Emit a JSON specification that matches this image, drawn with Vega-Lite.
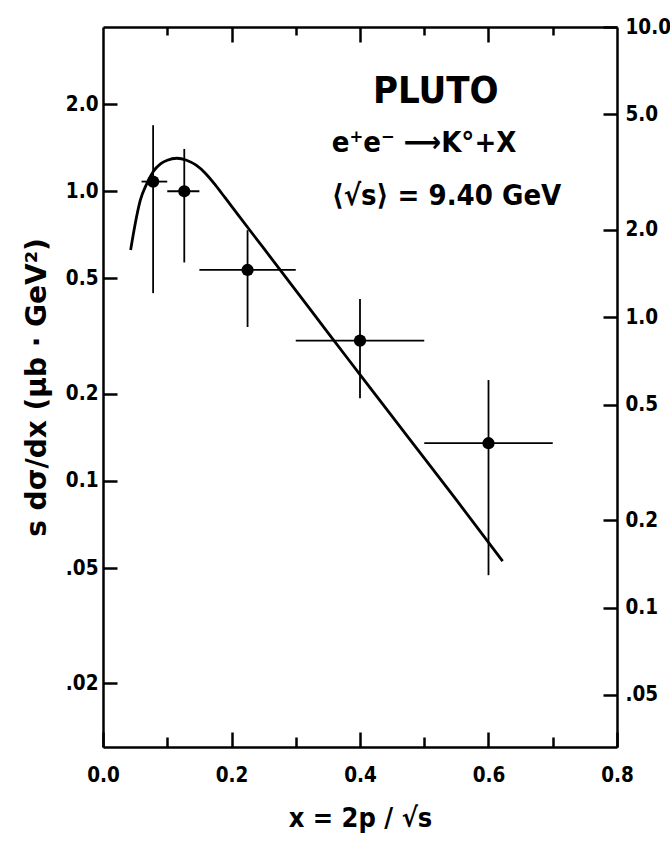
{
  "$schema": "https://vega.github.io/schema/vega-lite/v6.json",
  "width": 514,
  "height": 720,
  "autosize": "none",
  "padding": {"left": 103, "top": 27, "right": 53, "bottom": 97},
  "background": "white",
  "config": {
    "view": {"stroke": null},
    "axis": {
      "grid": false,
      "ticks": true,
      "domainColor": "black",
      "tickColor": "black",
      "labelColor": "black",
      "titleColor": "black",
      "labelFont": "DejaVu Sans Condensed",
      "labelFontSize": 20.5,
      "labelFontWeight": "bold",
      "domainWidth": 2.5,
      "tickWidth": 2.5,
      "labelOverlap": false,
      "labelFlush": false,
      "labelBound": false
    }
  },
  "datasets": {
    "points": [
      {"x": 0.078, "y": 1.08, "xlo": 0.06, "xhi": 0.10, "ylo": 0.445, "yhi": 1.69},
      {"x": 0.1265, "y": 1.0, "xlo": 0.10, "xhi": 0.15, "ylo": 0.568, "yhi": 1.40},
      {"x": 0.225, "y": 0.535, "xlo": 0.15, "xhi": 0.30, "ylo": 0.34, "yhi": 0.734},
      {"x": 0.40, "y": 0.305, "xlo": 0.30, "xhi": 0.50, "ylo": 0.193, "yhi": 0.425},
      {"x": 0.60, "y": 0.135, "xlo": 0.50, "xhi": 0.70, "ylo": 0.0473, "yhi": 0.223}
    ],
    "curve": [
      {"x": 0.043, "y": 0.627},
      {"x": 0.05, "y": 0.77},
      {"x": 0.058, "y": 0.93},
      {"x": 0.068, "y": 1.06},
      {"x": 0.078, "y": 1.168},
      {"x": 0.09, "y": 1.245},
      {"x": 0.1, "y": 1.28},
      {"x": 0.115, "y": 1.3},
      {"x": 0.13, "y": 1.28},
      {"x": 0.145, "y": 1.23},
      {"x": 0.16, "y": 1.15},
      {"x": 0.175, "y": 1.05},
      {"x": 0.19, "y": 0.95},
      {"x": 0.21, "y": 0.83},
      {"x": 0.25, "y": 0.636},
      {"x": 0.3, "y": 0.455},
      {"x": 0.35, "y": 0.325},
      {"x": 0.4, "y": 0.233},
      {"x": 0.45, "y": 0.167},
      {"x": 0.5, "y": 0.12},
      {"x": 0.55, "y": 0.086},
      {"x": 0.622, "y": 0.0529}
    ]
  },
  "layer": [
    {
      "layer": [
        {
          "data": {"name": "points"},
          "mark": {"type": "rule", "color": "black", "strokeWidth": 1.8},
          "encoding": {
            "x": {
              "field": "xlo", "type": "quantitative",
              "scale": {"domain": [0, 0.8], "nice": false, "zero": false},
              "axis": {
                "orient": "bottom",
                "values": [0, 0.2, 0.4, 0.6, 0.8],
                "format": ".1f",
                "tickSize": -15,
                "labelPadding": 33,
                "title": "x = 2p / √s",
                "titleFont": "DejaVu Sans Condensed",
                "titleFontSize": 27,
                "titleFontWeight": "bold",
                "titlePadding": 20
              }
            },
            "x2": {"field": "xhi"},
            "y": {
              "field": "y", "type": "quantitative",
              "scale": {"type": "log", "domain": [0.01207, 3.69], "nice": false},
              "axis": {
                "orient": "left",
                "values": [0.02, 0.05, 0.1, 0.2, 0.5, 1, 2],
                "labelExpr": "datum.value >= 0.1 ? format(datum.value, '.1f') : replace(format(datum.value, '.2f'), '0.', '.')",
                "tickSize": -14,
                "labelPadding": 19,
                "title": "s dσ/dx   (μb · GeV²)",
                "titleFont": "DejaVu Sans",
                "titleFontSize": 28,
                "titleFontWeight": "bold",
                "titlePadding": 14
              }
            }
          }
        },
        {
          "data": {"name": "points"},
          "mark": {"type": "rule", "color": "black", "strokeWidth": 1.8},
          "encoding": {
            "x": {"field": "x", "type": "quantitative"},
            "y": {"field": "ylo", "type": "quantitative"},
            "y2": {"field": "yhi"}
          }
        },
        {
          "data": {"name": "curve"},
          "mark": {"type": "line", "color": "black", "strokeWidth": 2.8, "interpolate": "monotone"},
          "encoding": {
            "x": {"field": "x", "type": "quantitative"},
            "y": {"field": "y", "type": "quantitative"}
          }
        },
        {
          "data": {"name": "points"},
          "mark": {"type": "circle", "color": "black", "opacity": 1, "size": 150},
          "encoding": {
            "x": {"field": "x", "type": "quantitative"},
            "y": {"field": "y", "type": "quantitative"}
          }
        },
        {
          "data": {"values": [{}]},
          "mark": {"type": "text", "font": "DejaVu Sans Condensed", "fontWeight": "bold", "fontSize": 38, "align": "center", "baseline": "alphabetic", "color": "black"},
          "encoding": {
            "x": {"datum": 0.518, "type": "quantitative"},
            "y": {"datum": 2.016, "type": "quantitative"},
            "text": {"value": "PLUTO"}
          }
        },
        {
          "data": {"values": [{}]},
          "mark": {"type": "text", "font": "DejaVu Sans Condensed", "fontWeight": "bold", "fontSize": 29, "align": "left", "baseline": "alphabetic", "color": "black"},
          "encoding": {
            "x": {"datum": 0.356, "type": "quantitative"},
            "y": {"datum": 1.366, "type": "quantitative"},
            "text": {"value": "e⁺e⁻ ⟶K°+X"}
          }
        },
        {
          "data": {"values": [{}]},
          "mark": {"type": "text", "font": "DejaVu Sans Condensed", "fontWeight": "bold", "fontSize": 29, "align": "left", "baseline": "alphabetic", "color": "black"},
          "encoding": {
            "x": {"datum": 0.356, "type": "quantitative"},
            "y": {"datum": 0.896, "type": "quantitative"},
            "text": {"value": "⟨√s⟩ = 9.40 GeV"}
          }
        }
      ]
    },
    {
      "data": {"name": "points"},
      "mark": {"type": "point", "opacity": 0},
      "encoding": {
        "x": {
          "field": "x", "type": "quantitative",
          "scale": {"domain": [0, 0.8], "nice": false, "zero": false},
          "axis": {"orient": "bottom", "values": [0.1, 0.3, 0.5, 0.7], "labels": false, "domain": false, "tickSize": -10, "title": null}
        }
      }
    },
    {
      "data": {"name": "points"},
      "mark": {"type": "point", "opacity": 0},
      "encoding": {
        "x": {
          "field": "x", "type": "quantitative",
          "scale": {"domain": [0, 0.8], "nice": false, "zero": false},
          "axis": {"orient": "top", "values": [0.2, 0.4, 0.6], "labels": false, "domain": true, "tickSize": -15, "title": null}
        }
      }
    },
    {
      "data": {"name": "points"},
      "mark": {"type": "point", "opacity": 0},
      "encoding": {
        "x": {
          "field": "x", "type": "quantitative",
          "scale": {"domain": [0, 0.8], "nice": false, "zero": false},
          "axis": {"orient": "top", "values": [0.1, 0.3, 0.5, 0.7], "labels": false, "domain": false, "tickSize": -8, "title": null}
        }
      }
    },
    {
      "data": {"values": [{"v": 1}]},
      "mark": {"type": "point", "opacity": 0},
      "encoding": {
        "y": {
          "field": "v", "type": "quantitative",
          "scale": {"type": "log", "domain": [0.0331, 10], "nice": false},
          "axis": {
            "orient": "right",
            "values": [0.05, 0.1, 0.2, 0.5, 1, 2, 5, 10],
            "labelExpr": "datum.value >= 0.1 ? format(datum.value, '.1f') : replace(format(datum.value, '.2f'), '0.', '.')",
            "tickSize": -14,
            "labelPadding": 22,
            "title": null
          }
        }
      }
    }
  ],
  "resolve": {
    "scale": {"y": "independent"},
    "axis": {"x": "independent", "y": "independent"}
  }
}
